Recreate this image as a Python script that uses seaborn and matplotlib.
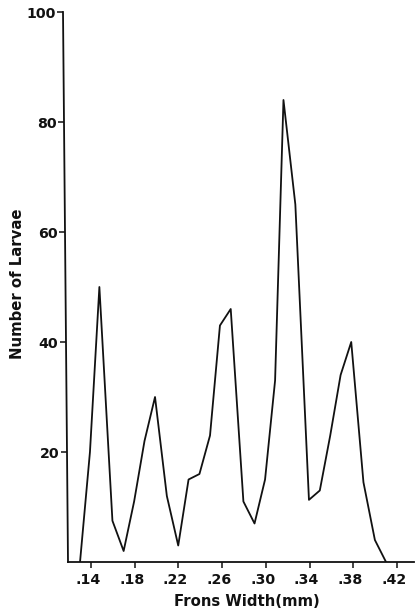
import seaborn as sns
import pandas as pd
import matplotlib
matplotlib.use("Agg")
import matplotlib.pyplot as plt
from matplotlib.transforms import Affine2D

frons_width = [.13, .14, .15, .16, .17, .18, .19, .20, .21, .22, .23, .24, .25, .26, .27,
               .28, .29, .30, .31, .32, .33, .34, .35, .36, .37, .38, .39, .40, .41]
n_larvae = [0, 20, 50, 7.5, 2, 11, 22, 30, 12, 3, 15, 16, 23, 43, 46,
            11, 7, 15, 33, 84, 65, 11.3, 13, 23, 34, 40, 14.5, 4, 0]
x_ticks = [.14, .18, .22, .26, .30, .34, .38, .42]
x_tick_labels = [".14", ".18", ".22", ".26", ".30", ".34", ".38", ".42"]
y_ticks = [20, 40, 60, 80, 100]

sns.set_style("ticks")
plt.rcParams['font.family'] = ['DejaVu Sans']
plt.rcParams['font.weight'] = 'bold'

df = pd.DataFrame({"width": frons_width, "larvae": n_larvae})

fig = plt.figure(figsize=(4.16, 6.10), dpi=100)
ax = fig.add_axes([68 / 416, 48 / 610, 346 / 416, 550 / 610])

sns.lineplot(x="width", y="larvae", data=df, color="#111111", linewidth=1.3, ax=ax)

ax.set_xlim(.119, .4356)
ax.set_ylim(0, 100)
ax.set_xticks(x_ticks)
ax.set_xticklabels(x_tick_labels)
ax.set_yticks(y_ticks)
ax.tick_params(axis='both', length=4, width=1.1, color="#111111", labelsize=10.2, labelcolor="#111111")
ax.tick_params(axis='x', pad=4)
ax.tick_params(axis='y', pad=1.5)
sns.despine(ax=ax)
for side in ["left", "bottom"]:
    ax.spines[side].set_linewidth(1.3)
    ax.spines[side].set_color("#111111")

ax.set_xlabel("Frons Width(mm)", fontsize=10.7, fontweight='bold', color="#111111")
ax.xaxis.set_label_coords(0.517, -0.058)
ax.set_ylabel("Number of Larvae", fontsize=10.7, fontweight='bold', color="#111111")
ax.yaxis.set_label_coords(-0.125, 0.506)

# scan of the page is slightly skewed, top leans left
k = -5 / 550
skew = Affine2D([[1, k, -k * 48], [0, 1, 0], [0, 0, 1]])
ax.lines[0].set_transform(ax.lines[0].get_transform() + skew)
ax.spines["left"].set_transform(ax.spines["left"].get_transform() + skew)
for t in ax.yaxis.get_major_ticks():
    t.tick1line.set_transform(t.tick1line.get_transform() + skew)
    t.label1.set_transform(t.label1.get_transform() + skew)
# tick labels sit a little left of their ticks
for t in ax.xaxis.get_major_ticks():
    t.label1.set_transform(t.label1.get_transform() + Affine2D().translate(-3, 0))

fig.savefig("out.png", dpi=100, facecolor='w')
